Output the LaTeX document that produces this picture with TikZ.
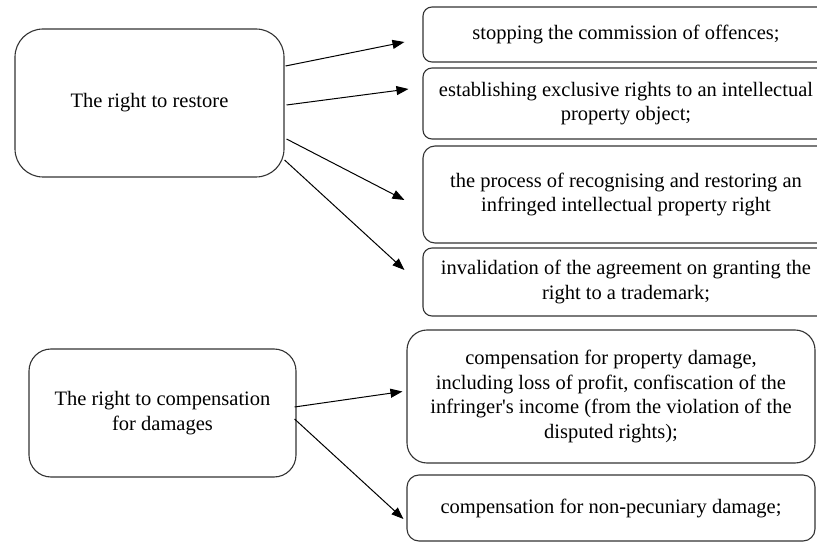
\documentclass[tikz,border=0pt]{standalone}
\usepackage{fontspec}
\setmainfont{Liberation Serif}
\usetikzlibrary{arrows.meta}

\begin{document}
\begin{tikzpicture}[x=1pt, y=-1pt, every node/.style={font=\fontsize{20.5}{24.5}\selectfont, align=center},
  box/.style={draw=black!80, line width=1.1pt, rounded corners=#1, inner sep=0pt}, box/.default=9pt,
  link/.style={-{Triangle[length=12pt,width=9pt]}, line width=1pt}]
\useasboundingbox (0,0) rectangle (817,545);
\clip (0,0) rectangle (817,545);
\node[box=28pt, minimum width=269pt, minimum height=148pt] (restore) at (149.5,103) {The right to restore};
\node[box=22pt, minimum width=267pt, minimum height=128pt] (damages) at (162.5,413) {The right to compensation\\for damages};
\node[box, minimum width=406pt, minimum height=55pt] (r1) at (626,34.5) {stopping the commission of offences;};
\node[box, minimum width=406pt, minimum height=71pt] (r2) at (626,103.5) {establishing exclusive rights to an intellectual\\property object;};
\node[box=12pt, minimum width=406pt, minimum height=97pt] (r3) at (626,194.5) {the process of recognising and restoring an\\infringed intellectual property right};
\node[box, minimum width=406pt, minimum height=68pt] (r4) at (626,282) {invalidation of the agreement on granting the\\right to a trademark;};
\node[box=20pt, minimum width=408pt, minimum height=133pt] (r5) at (611,396.5) {compensation for property damage,\\including loss of profit, confiscation of the\\infringer\textquotesingle s income (from the violation of the\\disputed rights);};
\node[box=12pt, minimum width=408pt, minimum height=66pt] (r6) at (611,508) {compensation for non-pecuniary damage;};
\draw[link] ([shift={(1,-37)}]restore.east) -- ([shift={(-18,7.5)}]r1.west); \draw[link] ([shift={(2,2)}]restore.east) -- ([shift={(-14,-14.5)}]r2.west);
\draw[link] ([shift={(2,36)}]restore.east) -- ([shift={(-18,5.5)}]r3.west); \draw[link] ([shift={(0,57)}]restore.east) -- ([shift={(-18,-12)}]r4.west);
\draw[link] ([shift={(-2,-6)}]damages.east) -- ([shift={(-4,-5)}]r5.west); \draw[link] ([shift={(-2,6)}]damages.east) -- ([shift={(-3,11)}]r6.west);
\end{tikzpicture}
\end{document}
